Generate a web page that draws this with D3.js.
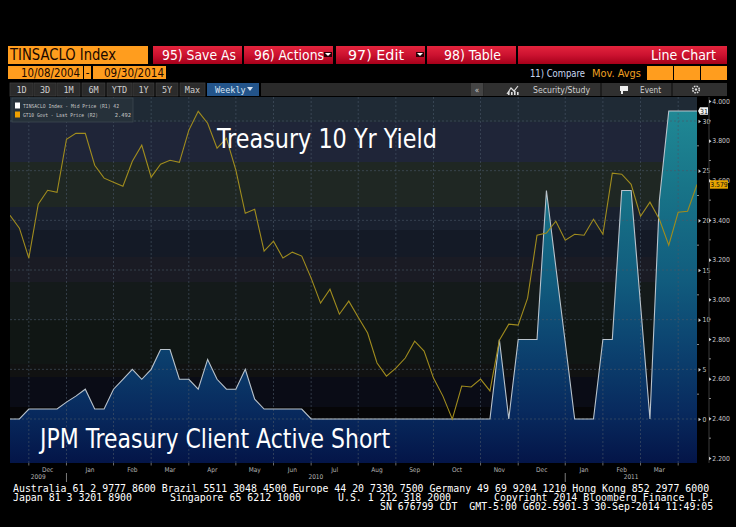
<!DOCTYPE html>
<html><head><meta charset="utf-8">
<script src="https://cdn.jsdelivr.net/npm/d3@7"></script>
<style>html,body{margin:0;padding:0;background:#000;overflow:hidden}</style>
</head><body><svg id="c" width="736" height="527" xmlns="http://www.w3.org/2000/svg"></svg>
<script>
// ---------------- DATA ----------------
const weekStart = "2009-11-20";          // first weekly observation (Friday)
const weekCount = 74;
const yield10 = [3.424,3.359,3.208,3.480,3.550,3.540,3.807,3.837,3.837,3.676,
                 3.611,3.590,3.570,3.696,3.777,3.616,3.681,3.701,3.691,3.852,
                 3.948,3.888,3.762,3.812,3.651,3.434,3.454,3.243,3.293,3.208,
                 3.238,3.218,3.107,2.981,3.051,2.925,2.991,2.910,2.830,2.679,
                 2.613,2.653,2.704,2.789,2.739,2.603,2.512,2.396,2.563,2.558,
                 2.598,2.538,2.794,2.875,2.870,3.006,3.323,3.334,3.394,3.298,
                 3.328,3.323,3.404,3.328,3.636,3.631,3.580,3.419,3.490,3.404,
                 3.273,3.439,3.444,3.579];
const clientShort = [0,0,1,1,1,1,1.7,2.3,3,1,
                     1,3,4,5,4,5,7,7,4,4,
                     3,6,4,3,3,5,2,1,1,1,
                     1,1,0,0,0,0,0,0,0,0,
                     0,0,0,0,0,0,0,0,0,0,
                     0,0,8,0,8,8,8,23,15.3,7.7,
                     0,0,0,8,8,23,23,11.5,0,22,
                     31,31,31,31];
const r1Ticks = [0,5,10,15,20,25,30];
const r1Minor = [2.5,7.5,12.5,17.5,22.5,27.5];
const r2Ticks = [2.2,2.4,2.6,2.8,3.0,3.2,3.4,3.6,3.8,4.0];
const r2Minor = [2.3,2.5,2.7,2.9,3.1,3.3,3.5,3.7,3.9];
const lastShort = 31, lastYield = 3.579;
const legendRows = [["TINSACLO Index - Mid Price (R1)", "42", "#ffffff"],
                    ["GT10 Govt - Last Price (R2)", "2.492", "#f0a000"]];
const titleTop = "Treasury 10 Yr Yield";
const titleBottom = "JPM Treasury Client Active Short";
const rangeButtons = ["1D","3D","1M","6M","YTD","1Y","5Y","Max"];
const footer1 = "Australia 61 2 9777 8600 Brazil 5511 3048 4500 Europe 44 20 7330 7500 Germany 49 69 9204 1210 Hong Kong 852 2977 6000";
const footer2 = ["Japan 81 3 3201 8900","Singapore 65 6212 1000","U.S. 1 212 318 2000","Copyright 2014 Bloomberg Finance L.P."];
const footer3 = "SN 676799 CDT  GMT-5:00 G602-5901-3 30-Sep-2014 11:49:05";

// ---------------- SETUP ----------------
const parse = d3.timeParse("%Y-%m-%d");
const t0 = parse(weekStart);
const dates = d3.range(weekCount).map(i => d3.timeDay.offset(t0, 7 * i));
const data = dates.map((d, i) => ({d, y: yield10[i], s: clientShort[i]}));

const svg = d3.select("#c");
svg.append("rect").attr("width", 736).attr("height", 527).attr("fill", "#000");
const P = {l: 10, r: 697, t: 97, b: 463};

const x = d3.scaleTime().domain([dates[0], dates[dates.length - 1]]).range([P.l, P.r]);
const y1 = d3.scaleLinear().domain([0, 30]).range([419, 121]);
const y2 = d3.scaleLinear().domain([2.2, 4.0]).range([458, 101]);

const defs = svg.append("defs");
defs.append("clipPath").attr("id", "plotclip").append("rect")
  .attr("x", P.l).attr("y", P.t).attr("width", P.r - P.l).attr("height", P.b - P.t);
const red = defs.append("linearGradient").attr("id", "redg").attr("x1", 0).attr("y1", 0).attr("x2", 0).attr("y2", 1);
red.append("stop").attr("offset", 0).attr("stop-color", "#e3243c");
red.append("stop").attr("offset", 0.5).attr("stop-color", "#cc1230");
red.append("stop").attr("offset", 1).attr("stop-color", "#a6001a");
const ag = defs.append("linearGradient").attr("id", "areag").attr("gradientUnits", "userSpaceOnUse")
  .attr("x1", 0).attr("y1", P.t).attr("x2", 0).attr("y2", P.b);
[[0, "#218c97"], [0.25, "#187488"], [0.5, "#115c7e"], [0.68, "#0c4370"], [0.86, "#082a5e"], [1, "#041548"]]
  .forEach(s => ag.append("stop").attr("offset", s[0]).attr("stop-color", s[1]));

// ---------------- HEADER ----------------
const hdr = svg.append("g").attr("font-family", "'DejaVu Sans Condensed','Liberation Sans Narrow','DejaVu Sans',sans-serif");
hdr.append("rect").attr("x", 8).attr("y", 46).attr("width", 140).attr("height", 18).attr("fill", "#ff9d1e");
hdr.append("text").attr("x", 10).attr("y", 60).attr("font-size", 15).attr("fill", "#1a0800")
  .attr("textLength", 106).attr("lengthAdjust", "spacingAndGlyphs").text("TINSACLO Index");
const btns = [[153, 242, "95) Save As", 162, 74, false], [244, 333, "96) Actions", 254, 70, true],
              [336, 425, "97) Edit", 348, 56, true], [427, 516, "98) Table", 444, 57, false]];
btns.forEach(b => {
  hdr.append("rect").attr("x", b[0]).attr("y", 46).attr("width", b[1] - b[0]).attr("height", 18).attr("fill", "url(#redg)");
  hdr.append("text").attr("x", b[3]).attr("y", 60).attr("font-size", 14).attr("fill", "#fff")
    .attr("textLength", b[4]).attr("lengthAdjust", "spacingAndGlyphs").text(b[2]);
  if (b[5]) {
    const ax = b[1] - 5;
    hdr.append("rect").attr("x", ax - 4).attr("y", 52).attr("width", 8).attr("height", 5).attr("fill", "#2a0006");
    hdr.append("path").attr("d", `M${ax - 3},53 L${ax + 3},53 L${ax},56 Z`).attr("fill", "#fff");
  }
});
hdr.append("rect").attr("x", 518).attr("y", 46).attr("width", 209).attr("height", 18).attr("fill", "url(#redg)");
hdr.append("text").attr("x", 716).attr("y", 60).attr("font-size", 14).attr("fill", "#fff").attr("text-anchor", "end")
  .attr("textLength", 65).attr("lengthAdjust", "spacingAndGlyphs").text("Line Chart");

// row 2
[[8, 75], [84, 7], [93, 73]].forEach(r => hdr.append("rect").attr("x", r[0]).attr("y", 66).attr("width", r[1]).attr("height", 13).attr("fill", "#ff9d1e"));
hdr.append("text").attr("x", 21).attr("y", 77).attr("font-size", 11.5).attr("fill", "#1a0800")
  .attr("textLength", 59).attr("lengthAdjust", "spacingAndGlyphs").text("10/08/2004");
hdr.append("text").attr("x", 87.5).attr("y", 77).attr("font-size", 11.5).attr("fill", "#1a0800").attr("text-anchor", "middle").text("-");
hdr.append("text").attr("x", 104).attr("y", 77).attr("font-size", 11.5).attr("fill", "#1a0800")
  .attr("textLength", 60).attr("lengthAdjust", "spacingAndGlyphs").text("09/30/2014");
hdr.append("text").attr("x", 530).attr("y", 77).attr("font-size", 10).attr("fill", "#c9d8f2")
  .attr("textLength", 55).attr("lengthAdjust", "spacingAndGlyphs").text("11) Compare");
hdr.append("text").attr("x", 592).attr("y", 77).attr("font-size", 10).attr("fill", "#f0a020")
  .attr("textLength", 49).attr("lengthAdjust", "spacingAndGlyphs").text("Mov. Avgs");
[[647, 26], [674, 26], [701, 26]].forEach(r => hdr.append("rect").attr("x", r[0]).attr("y", 66).attr("width", r[1]).attr("height", 14).attr("fill", "#ff9d1e"));

// row 3
const bx = [[10, 23], [34, 22], [57, 23], [82, 23], [107, 25], [133, 21], [156, 22], [180, 25]];
rangeButtons.forEach((t, i) => {
  hdr.append("rect").attr("x", bx[i][0]).attr("y", 83).attr("width", bx[i][1]).attr("height", 13)
    .attr("fill", "#2b2b2b").attr("stroke", "#3e3e3e").attr("stroke-width", 0.8);
  hdr.append("text").attr("x", bx[i][0] + bx[i][1] / 2).attr("y", 93).attr("font-size", 8.5).attr("fill", "#cfcfcf")
    .attr("text-anchor", "middle").attr("font-family", "'DejaVu Sans Mono',monospace").text(t);
});
hdr.append("rect").attr("x", 207).attr("y", 83).attr("width", 52).attr("height", 13).attr("fill", "#23548a");
hdr.append("text").attr("x", 215).attr("y", 93).attr("font-size", 8.5).attr("fill", "#d8e4f2")
  .attr("font-family", "'DejaVu Sans Mono',monospace").text("Weekly");
hdr.append("path").attr("d", "M247,87 L253,87 L250,91 Z").attr("fill", "#d8e4f2");
hdr.append("rect").attr("x", 261).attr("y", 83).attr("width", 466).attr("height", 13).attr("fill", "#2a2a2a");
hdr.append("rect").attr("x", 471).attr("y", 83).attr("width", 12).attr("height", 13).attr("fill", "#444");
hdr.append("text").attr("x", 477).attr("y", 93).attr("font-size", 8).attr("fill", "#ccc").attr("text-anchor", "middle").text("«");
hdr.append("rect").attr("x", 484).attr("y", 83).attr("width", 243).attr("height", 13).attr("fill", "#303030");
[601, 672].forEach(v => hdr.append("line").attr("x1", v).attr("x2", v).attr("y1", 83).attr("y2", 96).attr("stroke", "#111").attr("stroke-width", 1.2));
hdr.append("path").attr("d", "M507,94 L511,88 L514,91 L518,86").attr("fill", "none").attr("stroke", "#ddd").attr("stroke-width", 1.2);
[508, 511, 514, 517].forEach((v, i) => hdr.append("rect").attr("x", v).attr("y", 91 + (i % 2)).attr("width", 1.6).attr("height", 4 - (i % 2)).attr("fill", "#ddd"));
hdr.append("text").attr("x", 533).attr("y", 93).attr("font-size", 8.5).attr("fill", "#cfcfcf")
  .attr("textLength", 57).attr("lengthAdjust", "spacingAndGlyphs").text("Security/Study");
hdr.append("path").attr("d", "M620,86 L628,86 L628,91 L623,91 L623,94 L621,94 L621,91 L620,91 Z").attr("fill", "#eee");
hdr.append("text").attr("x", 640).attr("y", 93).attr("font-size", 8.5).attr("fill", "#cfcfcf")
  .attr("textLength", 21).attr("lengthAdjust", "spacingAndGlyphs").text("Event");
hdr.append("circle").attr("cx", 696).attr("cy", 89.5).attr("r", 3.3).attr("fill", "none").attr("stroke", "#ddd").attr("stroke-width", 1.6)
  .attr("stroke-dasharray", "1.6,1");
hdr.append("circle").attr("cx", 696).attr("cy", 89.5).attr("r", 1.2).attr("fill", "#ddd");

// ---------------- PLOT BACKGROUND ----------------
const bands = [[97, 122, "#1f2a35"], [122, 162, "#1f2538"], [162, 207, "#1f2723"], [207, 230, "#19202e"],
               [230, 257, "#141a26"], [257, 282, "#1a1b24"], [282, 320, "#141a1a"], [320, 364, "#101614"],
               [364, 377, "#111212"], [377, 407, "#0a0c16"], [407, 463, "#060608"]];
const plot = svg.append("g");
bands.forEach(b => plot.append("rect").attr("x", P.l).attr("y", b[0]).attr("width", P.r - P.l).attr("height", b[1] - b[0]).attr("fill", b[2]));

// month boundaries = first weekly observation of each month
const monthStarts = dates.filter((d, i) => i > 0 && d.getMonth() !== dates[i - 1].getMonth());

// ---------------- SERIES ----------------
const area = d3.area().x(d => x(d.d)).y0(P.b).y1(d => y1(d.s));
const sLine = d3.line().x(d => x(d.d)).y(d => y1(d.s));
const yLine = d3.line().x(d => x(d.d)).y(d => y2(d.y));
const series = svg.append("g").attr("clip-path", "url(#plotclip)");
series.append("path").datum(data).attr("d", area).attr("fill", "url(#areag)");

const gl = svg.append("g").attr("clip-path", "url(#plotclip)");
gl.selectAll("line.v").data(monthStarts).join("line")
  .attr("x1", d => x(d)).attr("x2", d => x(d)).attr("y1", P.t).attr("y2", P.b)
  .attr("stroke", "#4a5868").attr("stroke-width", 0.8).attr("stroke-dasharray", "2,2").attr("opacity", 0.75);
gl.selectAll("line.h").data(r1Ticks).join("line")
  .attr("x1", P.l).attr("x2", P.r).attr("y1", d => y1(d)).attr("y2", d => y1(d))
  .attr("stroke", "#4a5868").attr("stroke-width", 0.8).attr("stroke-dasharray", "2,2").attr("opacity", 0.75);

const series2 = svg.append("g").attr("clip-path", "url(#plotclip)");
series2.append("path").datum(data).attr("d", sLine).attr("fill", "none").attr("stroke", "#b9c3cc").attr("stroke-width", 1.1);
series2.append("path").datum(data).attr("d", yLine)
  .attr("fill", "none").attr("stroke", "#a08c1e").attr("stroke-width", 1.1);

// ---------------- LEGEND ----------------
const lg = svg.append("g").attr("font-family", "'DejaVu Sans Mono',monospace");
lg.append("rect").attr("x", 12).attr("y", 98).attr("width", 121).attr("height", 24).attr("fill", "#26313a").attr("stroke", "#3d4851").attr("stroke-width", 0.8);
legendRows.forEach((r, i) => {
  const yy = 102.5 + i * 9;
  lg.append("rect").attr("x", 15).attr("y", yy).attr("width", 5).attr("height", 6).attr("fill", r[2]);
  if (i === 0) {
    lg.append("text").attr("x", 23).attr("y", yy + 5.2).attr("font-size", 5.4).attr("fill", "#c8c8c8")
      .attr("textLength", 96).attr("lengthAdjust", "spacingAndGlyphs").text(r[0] + " " + r[1]);
  } else {
    lg.append("text").attr("x", 23).attr("y", yy + 5.2).attr("font-size", 5.4).attr("fill", "#c8c8c8")
      .attr("textLength", 75).attr("lengthAdjust", "spacingAndGlyphs").text(r[0]);
    lg.append("text").attr("x", 131).attr("y", yy + 5.2).attr("font-size", 5.4).attr("fill", "#c8c8c8").attr("text-anchor", "end").text(r[1]);
  }
});

// ---------------- TITLES ----------------
const tf = "'DejaVu Sans Condensed','Liberation Sans Narrow','DejaVu Sans',sans-serif";
svg.append("text").attr("x", 217).attr("y", 148).attr("font-family", tf).attr("font-size", 27).attr("fill", "#fff")
  .attr("textLength", 220).attr("lengthAdjust", "spacingAndGlyphs").text(titleTop);
svg.append("text").attr("x", 40).attr("y", 448).attr("font-family", tf).attr("font-size", 27).attr("fill", "#fff")
  .attr("textLength", 350).attr("lengthAdjust", "spacingAndGlyphs").text(titleBottom);

// ---------------- AXES ----------------
const axf = "'DejaVu Sans Condensed','Liberation Sans Narrow','DejaVu Sans',sans-serif";
const xb = svg.append("g").attr("font-family", axf).attr("font-size", 6.5).attr("fill", "#b4b4b4");
xb.selectAll("line.t").data(monthStarts).join("line")
  .attr("x1", d => x(d)).attr("x2", d => x(d)).attr("y1", P.b).attr("y2", P.b + 2.5).attr("stroke", "#888").attr("stroke-width", 0.8);
const fmtM = d3.timeFormat("%b");
monthStarts.forEach((m, i) => {
  if (i + 1 < monthStarts.length) {
    xb.append("text").attr("x", (x(m) + x(monthStarts[i + 1])) / 2).attr("y", 472).attr("text-anchor", "middle").text(fmtM(m));
  }
});
const yearStarts = monthStarts.filter(d => d.getMonth() === 0);
yearStarts.forEach(d => xb.append("line").attr("x1", x(d)).attr("x2", x(d)).attr("y1", 473).attr("y2", 482).attr("stroke", "#999").attr("stroke-width", 0.8));
const yearEdges = [P.l, ...yearStarts.map(d => x(d)), P.r];
const years = [dates[0].getFullYear(), ...yearStarts.map(d => d.getFullYear())];
years.forEach((yv, i) => xb.append("text").attr("x", (yearEdges[i] + yearEdges[i + 1]) / 2).attr("y", 478.5)
  .attr("text-anchor", "middle").text(yv));

// right axis R1
const r1 = svg.append("g").attr("transform", `translate(${P.r + 4},0)`)
  .call(d3.axisRight(y1).tickValues(r1Ticks).tickSize(0).tickPadding(1.5).tickFormat(d3.format("d")));
r1.select(".domain").remove();
r1.selectAll("text").attr("font-family", axf).attr("font-size", 6.8).attr("fill", "#c8c8c8");
r1.selectAll(".tick").append("path").attr("d", "M-2.5,-1.8 L0,0 L-2.5,1.8 Z").attr("fill", "#d0d0d0");
svg.append("g").selectAll("line").data(r1Minor).join("line")
  .attr("x1", P.r).attr("x2", P.r + 2).attr("y1", d => y1(d)).attr("y2", d => y1(d)).attr("stroke", "#aaa").attr("stroke-width", 0.8);

// right axis R2
const r2x = 709;
svg.append("line").attr("x1", r2x).attr("x2", r2x).attr("y1", P.t).attr("y2", P.b).attr("stroke", "#3a3a3a").attr("stroke-width", 1);
const r2 = svg.append("g").attr("transform", `translate(${r2x + 2.5},0)`)
  .call(d3.axisRight(y2).tickValues(r2Ticks).tickSize(0).tickPadding(0.8).tickFormat(d3.format(".3f")));
r2.select(".domain").remove();
r2.selectAll("text").attr("font-family", axf).attr("font-size", 6.8).attr("fill", "#c8c8c8");
r2.selectAll(".tick").append("path").attr("d", "M-2.5,-1.8 L0,0 L-2.5,1.8 Z").attr("fill", "#d0d0d0");
svg.append("g").selectAll("line").data(r2Minor).join("line")
  .attr("x1", r2x).attr("x2", r2x + 2).attr("y1", d => y2(d)).attr("y2", d => y2(d)).attr("stroke", "#aaa").attr("stroke-width", 0.8);

// last-value tags
const ly1 = y1(lastShort);
svg.append("path").attr("d", `M${P.r + 1},${ly1} L${P.r + 3},${ly1 - 3.8} L${P.r + 11},${ly1 - 3.8} L${P.r + 11},${ly1 + 3.8} L${P.r + 3},${ly1 + 3.8} Z`).attr("fill", "#f4f4f4");
svg.append("text").attr("x", P.r + 7).attr("y", ly1 + 2.5).attr("text-anchor", "middle").attr("font-family", axf)
  .attr("font-size", 7).attr("fill", "#111").text(lastShort);
const ly2 = y2(lastYield);
svg.append("rect").attr("x", r2x + 1).attr("y", ly2 - 4.2).attr("width", 18).attr("height", 8.4).attr("fill", "#e6a400");
svg.append("text").attr("x", r2x + 10).attr("y", ly2 + 2.4).attr("text-anchor", "middle").attr("font-family", axf)
  .attr("font-size", 6.8).attr("fill", "#111").text(d3.format(".3f")(lastYield));

// ---------------- FOOTER ----------------
const ff = svg.append("g").attr("font-family", "'DejaVu Sans Mono','Liberation Mono',monospace").attr("font-size", 9.9).attr("fill", "#fff")
  .style("white-space", "pre");
const cw = 5.95;
ff.append("text").attr("x", 13).attr("y", 492).attr("textLength", footer1.length * cw).attr("lengthAdjust", "spacingAndGlyphs").text(footer1);
[13, 170, 338, 494].forEach((xx, i) => ff.append("text").attr("x", xx).attr("y", 501)
  .attr("textLength", footer2[i].length * cw).attr("lengthAdjust", "spacingAndGlyphs").text(footer2[i]));
ff.append("text").attr("x", 380).attr("y", 510).attr("textLength", footer3.length * cw).attr("lengthAdjust", "spacingAndGlyphs")
  .attr("xml:space", "preserve").text(footer3);
</script></body></html>
